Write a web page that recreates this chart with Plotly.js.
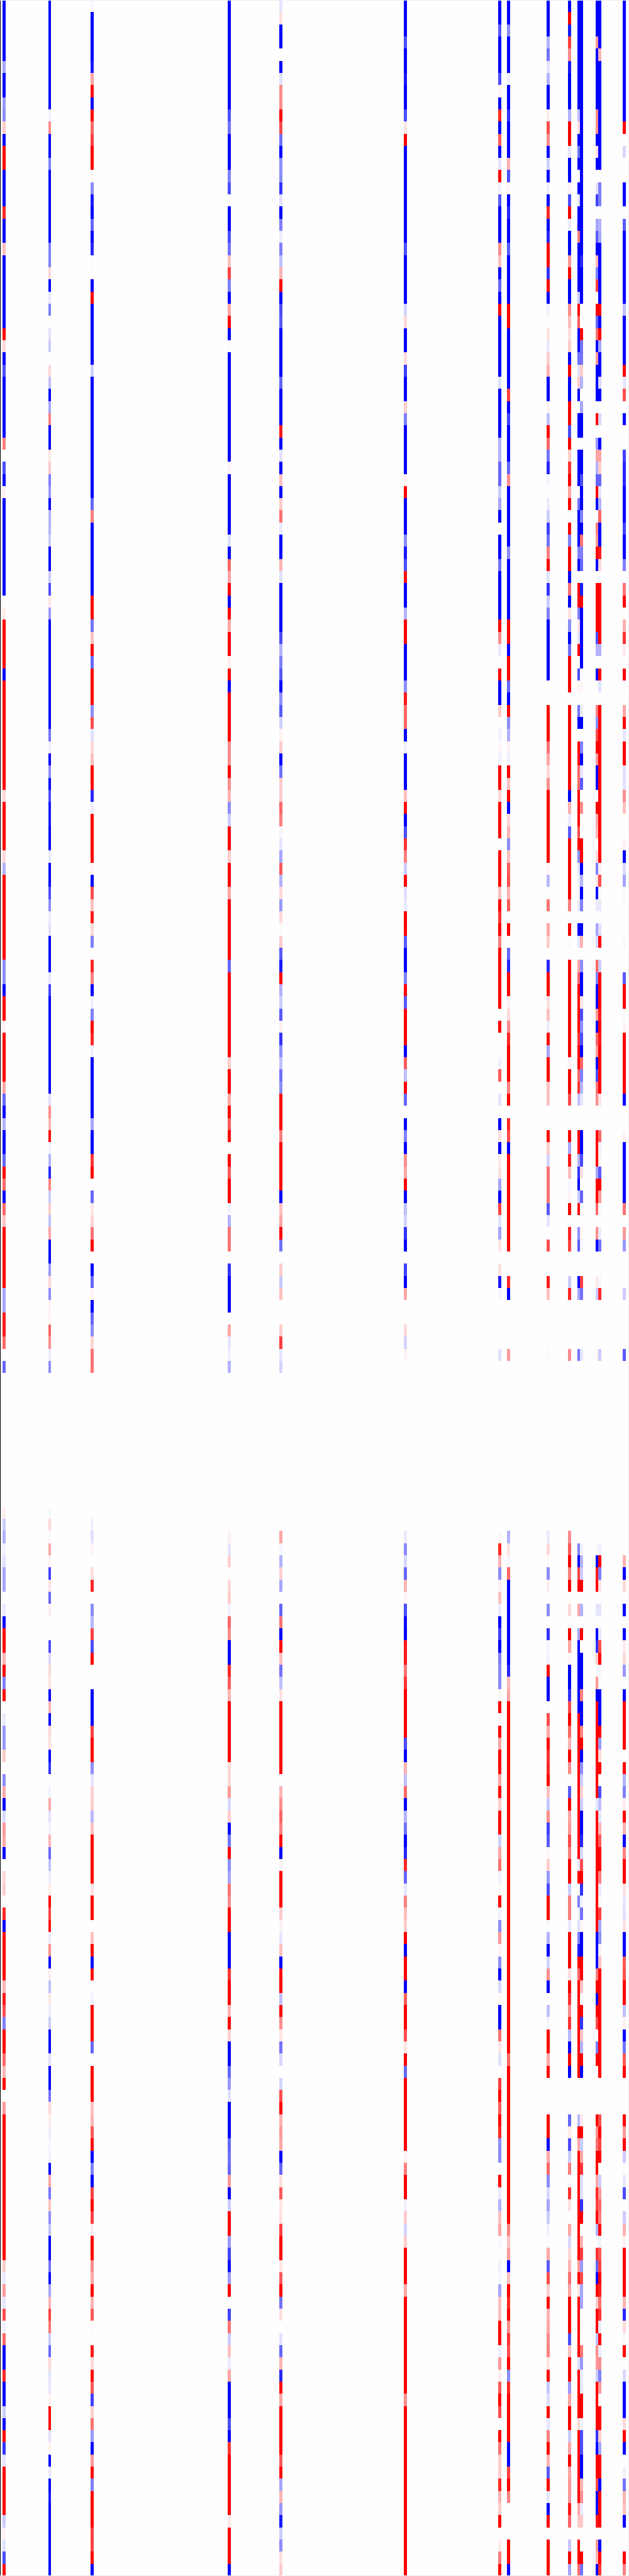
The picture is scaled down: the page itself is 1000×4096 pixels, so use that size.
<!DOCTYPE html>
<html>
<head>
<meta charset="utf-8">
<script src="https://cdn.plot.ly/plotly-3.0.1.min.js"></script>
<style>html,body{margin:0;padding:0;background:#fff}#chart{width:1000px;height:4096px}</style>
</head>
<body>
<div id="chart"></div>
<script>
const columnIndex = [0,15,29,74,91,132,163,166,179,186,189,190,195,196,204];
const columnCount = 205;
const colA = [-1,-1,-1,-1,-1,-.35,-1,-1,-.4,-.45,.2,-1,1,1,-1,-1,-1,.85,-1,-1,.25,-1,-1,-1,-1,-1,-1,1,.15,
-1,-.7,-1,-1,-1,-1,-1,.5,0,-.7,-1,.05,-1,-1,-1,-1,-1,-1,-1,-1,0,.08,1,1,1,1,-1,1,
1,1,1,1,1,1,1,1,.15,1,1,1,1,.15,-.3,1,1,1,1,1,1,1,-.45,-.45,-1,1,1,.05,1,
1,1,1,.35,-.6,-1,-.3,-1,-1,-.6,1,.6,-1,.6,.25,1,1,1,1,1,-.35,-.35,.9,.9,.6,0,-.6,
0,0,0,0,0,0,0,0,0,0,0,
.07,-.2,-.3,-.05,-.12,-.35,-.35,0,-.08,-1,1,1,.3,1,-.5,1,0,-.08,-.4,-.4,.2,0,-.45,.35,-1,-.15,.4,.35,-1,
0,.15,.2,.02,.85,-1,1,1,1,1,.3,.9,.7,-.5,1,1,.6,.3,1,0,.4,1,1,1,1,1,1,1,
1,1,1,1,1,.2,-.08,.4,-.1,.7,-.05,.6,-1,-1,.85,-1,-1,-.2,-1,1,-.8,-.1,1,1,1,1,-.2,.05,-.12,-.7,1];
const colB = [-1,-1,-1,-1,-1,-1,-1,-1,-1,-.05,.45,-1,-1,-.5,-1,-1,-1,-1,-1,-1,-.5,-.5,.15,-1,-.1,-.5,0,-.12,-.2,
0,.15,-.25,-1,-.35,.5,-1,-1,.1,.2,-.5,-.4,-1,-.3,-.3,-.2,-1,-1,-.2,-.7,.1,-.4,-1,-1,-1,-1,-1,-1,
-1,-1,-1,-.55,-.06,-1,-.45,-1,-.7,-.9,-.9,-1,-1,-.1,-1,-1,-.7,-.45,-.07,-.12,-1,-1,-1,-.1,-.75,-1,-1,-1,-1,
-1,-1,-1,-1,-.12,.45,.3,1,-.05,-.3,-.85,.5,-.2,.2,-.25,.35,-1,-1,-.4,.15,-.45,.05,.03,.6,.45,-.07,-.45,
0,0,0,0,0,0,0,0,0,0,0,
-.03,.15,.02,.35,.05,-.75,.12,-.6,.07,0,0,-.7,-.15,.15,.12,-1,.3,-1,.15,.12,-1,-.8,0,-.05,.35,-.12,-.05,.3,-.6,
-.25,-.07,.07,1,.75,.95,-.08,.45,-1,.08,-.25,.1,-.07,-.2,-1,-1,-.12,-1,-1,-.55,.15,.07,-.08,-.03,-.05,-1,.35,-.55,
.25,-.45,-.25,-1,-1,-.55,-1,-.35,.3,.75,.55,-.2,-.6,.15,-.12,-.1,.05,1,1,-.12,.05,-1,-.1,-1,-.9,-1,-1,-1,-1,-1,-1];
const colC = [-.03,-1,-1,-1,-1,-.9,.35,.95,-1,1,.6,.75,1,1,.03,-.45,-.9,-1,-.6,-1,-.85,.02,0,-1,1,-1,-1,-1,-1,
-1,-.18,-1,-1,-1,-1,-1,-1,-1,-1,-1,-1,-.6,.5,-1,-1,-1,-1,-1,-1,1,1,-.55,.25,1,-.6,1,1,
1,-.45,.7,-.12,.15,.25,1,1,-.85,-.07,1,1,1,1,.03,-1,.7,.25,.9,.15,-.5,0,.85,.5,-1,-.05,-.5,1,.85,
-.05,-1,-1,-1,-1,-1,-.35,-1,-1,.8,1,0,-.6,.1,.17,.55,1,0,-1,-.6,.04,-1,-.6,-.45,.17,.55,.55,
0,0,0,0,0,0,0,0,0,0,0,
0,-.05,-.12,.03,0,.12,.85,0,-.45,-.28,.75,-.7,1,0,0,-1,-1,-1,.75,1,1,-.45,-.1,.18,.2,-.28,.25,1,1,
1,1,.12,1,1,0,.25,1,-.95,.95,0,-.05,1,1,1,-.6,0,1,1,1,.25,.3,.65,1,-1,-.5,-1,.75,
1,.75,.07,1,1,.45,.35,1,.3,.65,.02,0,.9,.15,1,.65,-.75,.2,.55,-.4,-1,.4,1,-.5,1,1,1,.75,.75,1,-1];
const colD = [-1,-1,-1,-1,-1,-1,-1,-1,-1,-.7,-.55,-1,-1,-1,-.5,-.7,.02,-1,-1,-.7,-.55,.25,.75,-.5,-1,.35,1,-1,.02,
-1,-1,-1,-1,-1,-1,-1,-1,-1,.05,-1,-1,-1,-1,-1,-.12,-1,.6,.35,1,-1,1,.35,1,1,.07,1,-1,
1,1,1,1,.45,.45,1,.45,.3,-.45,-.2,1,1,.2,1,1,.35,1,1,1,1,1,-.6,1,1,1,1,1,1,
1,.2,1,1,.35,1,.65,1,0,1,.65,1,1,-.05,-.3,.55,.55,0,-.8,-1,-1,-1,0,.35,-.1,-.06,-.3,
0,0,0,0,0,0,0,0,0,0,0,
0,0,.05,-.1,.18,.01,.15,.2,-.06,.6,.45,-1,-1,.85,.65,.3,1,1,1,1,1,.15,.15,.4,-.15,.2,-1,-.55,1,
-.45,-.35,.55,.45,1,1,-1,-1,-1,.8,1,1,.3,1,.18,-1,-1,-.6,-.4,-.12,-1,-1,-1,-.6,-.55,-.6,.4,-1,
-.2,1,1,-.4,-.75,-.95,-.4,1,.01,-.75,.55,-.2,.25,-.08,.35,-1,-1,-1,-.7,-1,.8,1,1,1,1,1,.08,1,1,1,-1];
const colE = [-.1,.12,-1,-1,0,-1,-.12,.45,.45,1,.7,-.55,-1,-.45,-.45,-.8,-.12,-1,-.5,-.07,-.5,-.25,.3,1,-1,-.7,-.65,-1,-1,
-1,-1,-.6,-1,-1,-1,.9,-1,-.12,-1,.25,-1,.2,.55,-.08,-1,-1,.3,-.12,-1,-1,-1,-1,-.7,-.3,-.5,-.65,-1,
-.45,-.65,-.18,.05,.2,-1,-.55,.2,.2,.6,.5,-.03,-.1,-.35,.65,-.3,.15,-.4,.15,.02,.2,-.65,-.9,1,-.3,-.2,-.65,.07,-.8,
-.45,-.25,-.55,-.45,1,1,1,.5,1,1,1,1,-1,.25,.35,1,-.55,0,.2,-.22,.25,0,0,.2,.75,-.1,-.17,
0,0,0,0,0,0,0,0,0,0,0,
0,0,.35,-.03,-.3,.18,-.35,.01,-.6,.55,-1,1,.25,-.55,-.25,.12,1,1,1,1,1,1,0,.3,.45,.6,.5,1,-1,
.05,1,1,1,.2,.05,-.1,.25,-1,1,1,-.25,1,.45,.1,-.55,-.15,0,-.17,.7,1,.3,.4,.35,-1,-.6,.12,.65,
.1,.12,.75,1,1,.1,.65,1,-.55,.12,0,-.12,-.6,.3,-.85,.95,.35,1,1,1,1,.65,.95,-.35,.3,-.4,-.9,-.2,-.45,.12,.2];
const colF = [-1,-1,-1,-.7,-1,-1,-.9,-1,-1,-.7,.1,1,-1,-1,-1,-1,-1,-1,-1,-1,-.7,-1,-1,-1,-1,-.17,.15,-1,-1,
.15,-.75,-1,-1,.18,-.5,-1,-1,-1,-1,.05,1,-1,-1,-1,-.45,-.9,-.7,.95,-1,-1,-.3,1,1,-1,-1,-1,-.45,
.9,.6,.6,-1,-.06,-1,-1,-1,.25,.95,-1,-.7,.8,.5,-.2,1,-.12,-.08,1,1,-.65,-1,-1,-.5,1,-.65,1,1,1,
-1,.65,-.25,1,-.6,0,-1,-.5,-1,.45,.35,1,-1,-.25,-.17,-.8,-1,0,-.75,-1,.35,0,0,.15,-.17,.05,0,
0,0,0,0,0,0,0,0,0,0,0,
0,0,-.08,-.45,-.15,-.6,.3,.05,-.7,-.95,-1,.9,.9,.55,.8,1,1,1,1,-.7,-1,.3,-.25,.6,-1,-.3,-.55,-1,-.85,
.85,-.6,-.1,.5,.25,.2,1,-1,1,1,-1,.65,1,1,.7,.1,1,-.6,1,1,1,1,1,1,.05,.5,1,1,
-.05,.2,-.17,.2,1,1,1,.35,1,1,1,1,1,1,1,1,.45,1,1,1,1,1,1,1,1,1,1,1,1,1,1];
const colG = [-1,-1,-.65,-1,-1,-1,-.7,.05,-1,.85,-1,.65,-1,-.1,1,-.05,-.65,-1,-1,-1,.45,.25,-1,-.6,-1,1,-1,-1,-1,
-1,-1,-.12,-1,-1,-1,-1,-.3,-.3,-.6,-.6,-.2,-.35,-1,0,-1,-1,-.55,-1,-1,-1,-1,1,.45,-.08,0,1,-1,
-1,.2,0,-.05,.03,-.05,1,1,.15,1,1,1,0,1,1,1,.25,1,.8,1,.5,1,1,1,1,1,0,1,0,
0,-.05,.65,0,-.1,0,-1,.12,-1,.07,.12,-.35,-1,.75,-.12,-.35,.1,0,.12,-.9,-.03,0,0,0,0,-.12,0,
0,0,0,0,0,0,0,0,0,0,0,
0,0,.03,.85,.3,-.45,.05,.25,-.08,-1,-.75,-1,-.5,-.45,-.45,.03,1,.03,1,.35,1,1,.35,1,.2,1,1,-.18,.35,
.55,-.05,.03,1,-.05,-.45,.4,.05,-.45,-1,-.15,.03,-1,-1,.55,.1,-.12,0,.75,1,.65,1,.85,-.45,-.45,0,1,-.08,
-.3,.25,.35,-.03,0,-.05,-.03,-.35,.25,.25,1,1,-.06,.4,.07,.65,1,.7,0,1,.55,.2,.2,.85,.3,.2,1,0,.07,.5,1];
const colH = [-1,-1,-.45,-1,-1,-1,-.06,-1,-1,-.8,-1,-1,-1,.3,-.7,.03,-1,-.85,-1,-1,-.65,-1,-1,-1,-1,1,1,-1,-1,
-1,-1,-1,.75,-1,-.75,-1,-1,-1,-.6,.45,-1,-1,-1,-1,-1,-.45,-1,-1,-1,-1,-1,1,1,-1,1,1,-.6,
-1,1,-.45,-.3,.05,-.05,1,.25,1,-1,.17,.3,-.45,.25,.65,.7,.3,.65,0,1,0,-.6,-.85,1,1,.05,.15,.45,.85,
1,1,1,.5,1,0,.85,.7,-1,1,1,1,1,1,1,1,1,0,0,.85,-1,0,0,0,0,.4,0,
0,0,0,0,0,0,0,0,0,0,0,
0,0,-.3,.1,-.03,.6,-1,-1,-1,-1,-1,-1,-1,-.85,.28,.35,1,1,1,1,1,1,1,1,1,1,1,1,1,
1,1,1,1,1,1,1,1,1,1,1,1,1,1,1,1,.6,1,1,1,1,1,1,1,1,1,1,1,
1,1,.5,.25,.4,-1,.25,1,.85,1,.45,.8,.7,1,-.45,.85,1,1,1,1,-1,-1,.75,1,.5,0,0,0,1,1,-1];
const colI = [-1,-1,-1,-.3,-.55,-.1,-.3,-1,-1,.07,.7,.45,-1,-.18,-1,-.06,-1,.85,-1,-.85,1,1,-.8,1,-1,-.05,0,.12,-.08,
.2,.3,-1,-1,.05,-.25,1,.6,-.55,-.85,-.04,0,-.07,-.2,-.75,-.55,.5,1,-.12,-.8,-.2,-.5,-1,-1,-1,-1,-1,0,
0,1,1,1,.55,.35,.15,.45,1,1,1,1,1,1,.03,-.28,0,.55,0,.35,.2,0,-.85,1,1,.12,.25,-.07,1,
-.35,1,1,.25,.25,0,0,1,.2,-.17,.55,.55,.55,-.65,-.1,0,.7,0,0,.9,.25,0,0,0,0,-.02,0,
0,0,0,0,0,0,0,0,0,0,0,
0,0,-.07,.15,.02,-.45,.07,0,-.45,0,-.8,-.03,-.05,1,-1,-1,.01,.7,.35,1,.8,.85,1,.25,-.22,.45,-.75,-.65,.03,
.2,-.4,-.7,1,1,-.02,-.3,-1,-.17,.45,-1,0,-.25,-.04,1,1,.35,1,0,0,0,1,1,-1,.35,.6,-.45,-.15,
-.35,-.2,-.05,-.01,.35,-.65,.7,.2,1,.3,.35,.45,.5,.1,1,-.22,-.13,1,-.1,.5,1,.3,-.65,1,-.1,-1,1,0,1,1,1];
const colJ = [-1,1,-.9,.75,.45,-.9,-1,-1,-1,-.3,1,1,-.1,-1,-1,.05,-.7,1,-.08,-1,-1,.4,1,-1,-1,.45,.25,.12,.2,
-1,1,-1,-1,1,1,-.7,1,.2,.8,1,.35,1,-.02,1,-.5,1,1,-1,.55,-1,.12,-.45,-1,-.55,1,1,1,
0,1,1,1,1,1,1,1,-1,.3,-.07,-.65,1,1,1,1,1,.5,0,1,.02,0,1,1,1,1,1,1,1,
1,.05,1,1,.7,0,0,1,-.35,.9,.25,-.03,.03,1,0,.85,.75,0,0,-.2,.85,0,0,0,0,.45,0,
0,0,0,0,0,0,0,0,0,0,0,
0,0,.45,.65,1,.5,1,0,.15,0,1,.35,.03,-1,-1,-.8,.7,1,.6,.3,1,.45,0,-.65,1,.35,.4,.7,.5,
1,1,-.2,.5,.5,-.08,1,1,1,.12,1,.8,.45,.8,-.28,-1,1,-1,0,0,0,-.6,.07,-.7,-.2,.5,-.02,.8,
.12,0,.35,-.15,.15,.3,.55,.35,1,1,1,-.7,.25,1,1,-.4,.35,1,1,-.2,.35,1,.35,.4,.4,.9,.6,0,-.22,1,-.35];
const colK = [-1,-1,-1,-1,-1,-1,-1,-1,-1,-.25,.12,-1,-.55,-1,0,-1,-.1,-1,-1,.5,-1,-1,-1,-1,-.2,1,.65,-1,-1,
-.55,-.12,.2,-1,0,-1,-1,0,-1,-1,-1,.02,-.55,-1,-1,-1,-.5,-1,0,1,1,-.5,.1,-.1,1,0,-.7,.03,
0,-.55,-1,0,1,.95,.6,.6,1,1,1,.7,1,-.45,-.1,-.05,-.03,-.08,0,-1,-.1,0,.35,.6,1,.95,1,1,.8,
1,1,.6,.8,-.25,0,0,1,1,-.3,-.8,-1,-.2,1,0,-.45,-.65,0,0,-1,-.35,0,0,0,0,-.55,0,
0,0,0,0,0,0,0,0,0,0,0,
0,0,0,-.5,-1,.75,1,0,.35,0,-.35,-1,-1,-1,-1,-1,-1,1,1,1,1,1,1,1,1,1,1,1,1,
-.08,1,.01,-.5,-.05,-.12,-.5,-.9,1,.6,1,1,1,1,1,1,1,1,0,0,0,-.28,1,.35,1,1,1,1,
1,1,1,1,1,.4,1,.1,1,1,1,1,1,-.12,1,1,1,1,.15,1,1,1,1,1,1,.35,.22,0,1,1,.6];
const colL = [-1,-1,-1,-1,-1,-1,-1,-1,-1,-1,-1,-1,-1,-1,-1,-1,-1,-1,-1,-1,-1,-.85,-1,-1,-1,0,0,1,-.55,
-.55,.2,-.3,0,-.35,-1,-1,0,-1,-1,-.7,-1,-1,-.5,-1,.55,-.5,-.6,0,-.9,1,-1,-1,-1,-1,-1,0,.03,
0,-.07,-1,0,-.5,-1,-.1,-.65,0,.45,0,0,1,1,-1,-.3,-1,-.5,0,-1,.3,0,-.45,-1,-1,.1,-.7,-.45,-.7,
-1,.6,-.5,-.3,-.1,0,0,-1,-1,-.7,.12,0,-.6,0,0,.03,-.03,0,0,.75,-.55,0,0,0,0,-.1,0,
0,0,0,0,0,0,0,0,0,0,0,
0,0,0,-.05,-.3,-.2,1,0,-.3,0,1,0,-1,-1,-1,.5,-1,-1,.5,1,-1,-.45,-.2,.18,-.2,-1,-1,-.85,-.15,
.7,1,-.8,-.05,-.55,.03,-1,-1,1,1,.25,.03,1,-.8,.25,-.3,1,-1,0,0,0,.08,1,-.2,.35,.8,-.12,-.12,
-.8,1,0,.3,.75,-.4,.7,-.35,-.35,0,.03,0,.55,-.4,-.08,-.1,1,1,-.05,-.7,-.7,-1,-1,.3,.45,-.08,.22,0,0,1,-.55];
const colM = [-1,-1,-1,.4,-1,-1,-1,-1,-1,.45,.45,-1,.12,-1,0,-.12,-.75,0,-.35,-.65,-1,.3,-.5,.75,0,1,-.6,.55,-1,
.4,-1,-1,-1,0,1,0,-.4,.35,-.3,-.6,1,-1,0,.5,.4,1,-1,0,1,1,1,1,-.7,-.3,0,-1,0,
0,.5,-.45,.7,1,.4,-1,-1,.02,1,.35,.3,0,.15,-.5,.1,-.95,-.08,0,-.35,-.15,0,.6,-.5,-1,-1,.4,-1,.6,
.4,-1,-.7,.55,.45,0,0,1,1,1,-.35,1,1,.6,0,.45,-1,0,0,.08,-.2,0,0,0,0,.04,0,
0,0,0,0,0,0,0,0,0,0,0,
0,0,0,.02,-1,.9,1,0,-.1,0,-1,-.8,.2,-.03,.4,-1,1,1,1,1,1,1,1,1,-.1,1,1,1,1,
1,1,1,1,1,1,-1,-1,-1,.5,1,-1,1,.7,.02,-.5,1,.03,0,0,0,1,.45,.55,1,1,.35,.85,
.75,1,-.3,0,.8,-.6,-1,1,.2,1,1,-.25,.45,.4,-.2,1,1,1,1,-.8,-1,1,1,.7,-1,-.95,.9,0,.4,.3,-1];
const colN = [-1,-1,-1,-1,.3,-1,-1,-1,-1,-1,-1,-1,-1,-1,0,-.5,-.5,0,-.3,-.35,-1,-1,-1,-1,-1,1,-1,1,-.35,
-1,-1,-.15,-1,0,-.15,0,-1,.35,.2,-.6,-.1,-.3,.6,-1,-1,.9,.15,0,1,1,1,1,1,-.3,0,1,-.12,
0,1,1,1,1,1,1,1,1,1,1,1,1,1,.05,.7,.02,-.08,0,-.12,1,0,-.2,1,1,1,.9,1,.9,
1,1,1,1,.1,0,0,.6,-.05,.05,-.65,1,.4,-.02,0,-.07,-.55,0,0,-.03,.85,0,0,0,0,-.2,0,
0,0,0,0,0,0,0,0,0,0,0,
0,0,0,-.06,1,-.5,.12,0,-.1,0,-.1,.7,1,-.03,0,-1,-1,-1,1,-.4,.15,1,0,-.7,-.25,-.1,.3,.65,1,
1,.5,-.08,.02,.75,-.35,-.45,.05,.25,1,1,1,1,1,1,1,1,1,0,0,0,.7,1,.75,1,0,-.2,.4,
.6,.5,1,-.05,.65,.75,1,.9,.55,.8,-.08,1,-.08,.45,-.5,.4,.03,1,1,.2,-.35,1,1,-1,1,1,1,0,-1,1,.8];
const colO = [-1,-1,-1,-1,-1,-1,-1,-1,-1,-1,1,0,-.15,0,0,-1,-1,0,-.65,-1,-1,-1,-1,-1,-1,-.25,-1,-1,-1,
-1,1,-.1,.7,0,-1,0,0,-.75,-.85,-.85,-1,-1,-1,-.75,-1,-1,-.5,0,.55,1,0,.3,.8,.08,0,1,-.02,
0,.35,1,-.1,1,1,-.12,-.12,.45,.25,0,0,.05,-1,-.15,-.35,-.03,.01,0,0,.03,0,0,-.65,1,1,.02,.05,1,
1,1,1,1,-1,0,0,.05,-1,-1,-1,-1,-1,.55,0,.4,-.4,0,0,0,-.2,0,0,0,0,-.65,0,
0,0,0,0,0,0,0,0,0,0,0,
0,0,0,0,.3,-1,.15,0,-1,0,-1,.07,.15,-.4,0,-1,1,1,1,1,0,1,-.3,-.5,.07,1,.3,-1,.5,
1,1,.12,-.1,-.12,.12,-1,-1,.65,.7,1,1,-.25,.05,-1,-.55,.65,1,0,0,0,1,.4,1,-.2,.02,-.1,-.7,
0,-.2,.3,.05,1,1,1,1,.3,-.85,.15,-.03,1,0,-.15,-1,-1,-1,.15,1,-1,0,-.06,-.55,.3,.25,-1,0,0,1,.5];

const series = [colA,colB,colC,colD,colE,colF,colG,colH,colI,colJ,colK,colL,colM,colN,colO];
const rowCount = 212;
series.forEach((s,i)=>{ if(s.length!==rowCount) throw new Error('column '+i+' has '+s.length); });

const z = [];
for (let r = 0; r < rowCount; r++) {
  const row = new Array(columnCount).fill(0);
  series.forEach((s,i)=>{ row[columnIndex[i]] = s[r]; });
  z.push(row);
}

const colW = 986/204;
const x0 = -0.5 - 4/colW;
Plotly.newPlot('chart', [{
  type: 'heatmap', z: z, zmin: -1, zmax: 1, showscale: false, hoverinfo: 'skip',
  colorscale: [[0,'#0000ff'],[0.5,'#fefefe'],[1,'#ff0000']], xgap: 0, ygap: 0
}], {
  width: 1000, height: 4096, margin: {l:0,r:0,t:0,b:0,pad:0},
  paper_bgcolor: '#ffffff', plot_bgcolor: '#ffffff', showlegend: false,
  xaxis: {range: [x0, x0 + 1000/colW], visible: false, fixedrange: true},
  yaxis: {range: [rowCount-0.5, -0.5], visible: false, fixedrange: true},
  shapes: [
    {type:'line',xref:'paper',yref:'paper',x0:0,x1:0,y0:0,y1:1,line:{color:'#000000',width:2}},
    {type:'line',xref:'paper',yref:'paper',x0:0,x1:1,y0:1,y1:1,line:{color:'#eeeeee',width:2}},
    {type:'line',xref:'paper',yref:'paper',x0:0,x1:1,y0:0,y1:0,line:{color:'#eeeeee',width:2}},
    {type:'line',xref:'paper',yref:'paper',x0:1,x1:1,y0:0,y1:1,line:{color:'#eeeeee',width:2}}
  ]
}, {staticPlot:true, displayModeBar:false});
</script>
</body>
</html>
